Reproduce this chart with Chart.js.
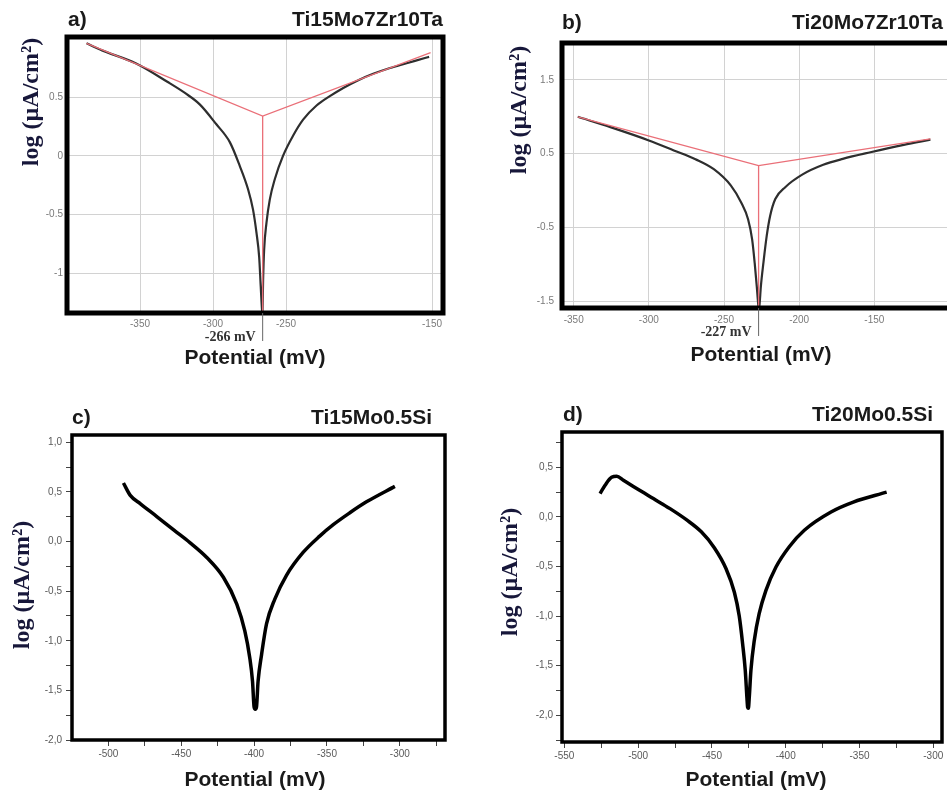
<!DOCTYPE html>
<html>
  <head>
    <title>Potentiodynamic polarization curves</title>
    <script src="https://cdn.jsdelivr.net/npm/chart.js"></script>
    <style>
      body {
        margin: 0;
        background: #fff;
        overflow: hidden;
        width: 947px;
        height: 794px;
        position: relative;
      }

      .panel {
        position: absolute;
      }
    </style>
  </head>
  <body>
    <div class="panel" style="left: 0; top: 0"><canvas id="chartA" width="470" height="375"></canvas></div>
    <div class="panel" style="left: 470px; top: 0"><canvas id="chartB" width="500" height="375"></canvas></div>
    <div class="panel" style="left: 0; top: 380px"><canvas id="chartC" width="470" height="414"></canvas></div>
    <div class="panel" style="left: 470px; top: 380px"><canvas id="chartD" width="477" height="414"></canvas></div>

    <script>
      // sample names
      const alloys = ['Ti15Mo7Zr10Ta', 'Ti20Mo7Zr10Ta', 'Ti15Mo0.5Si', 'Ti20Mo0.5Si'];

      // a) Ti15Mo7Zr10Ta : potential (mV) / log current density
      const potA = [-386.6, -376, -353, -331, -319, -309.1, -297.7, -288.5, -281.7, -276, -272.6, -270.2, -268.4, -267.3, -266.4, -266.2, -266.1, -265.7, -265, -263.4, -261.1, -257.7, -252, -245.1, -238.3, -229.1, -220, -210.8, -201.6, -190.3, -178.8, -167.4, -154.9, -152];
      const logA = [0.96, 0.9, 0.79, 0.63, 0.535, 0.44, 0.27, 0.118, -0.084, -0.284, -0.457, -0.658, -0.86, -1.118, -1.32, -1.34, -1.32, -1.06, -0.8, -0.57, -0.37, -0.198, 0.003, 0.175, 0.31, 0.43, 0.51, 0.58, 0.64, 0.7, 0.75, 0.79, 0.835, 0.845];
      const tafelAx = [-386.6, -266, -151];
      const tafelAy = [0.96, 0.34, 0.88];
      const ecorrA = -266;

      // b) Ti20Mo7Zr10Ta
      const potB = [-347.3, -325.6, -300, -283.4, -269, -256.8, -245.4, -238.6, -234, -231.3, -229.6, -228.2, -227.2, -226.9, -226.4, -225.5, -223.8, -221.6, -219.3, -215.9, -209.1, -197.7, -184, -171, -152.6, -130.4, -112.7];
      const logB = [1.0, 0.86, 0.68, 0.545, 0.425, 0.29, 0.068, -0.16, -0.387, -0.66, -0.98, -1.3, -1.55, -1.59, -1.55, -1.3, -0.98, -0.614, -0.34, -0.114, 0.05, 0.22, 0.35, 0.43, 0.52, 0.62, 0.69];
      const tafelBx = [-347.3, -227, -112.7];
      const tafelBy = [1.0, 0.34, 0.7];
      const ecorrB = -227;

      // c) Ti15Mo0.5Si
      const potC = [-489.7, -485, -478, -466.6, -455, -444.1, -432.5, -421.1, -411.9, -406.4, -403, -401.1, -400, -399.2, -398.4, -397.3, -394.9, -391.5, -385.8, -377.8, -366.4, -355, -345.7, -334.3, -322.9, -303.4];
      const logC = [0.59, 0.465, 0.38, 0.25, 0.115, -0.01, -0.16, -0.36, -0.63, -0.9, -1.17, -1.41, -1.67, -1.69, -1.67, -1.41, -1.14, -0.83, -0.58, -0.34, -0.11, 0.055, 0.17, 0.29, 0.4, 0.556];

      // d) Ti20Mo0.5Si
      const potD = [-525.8, -522.4, -518, -514.5, -510, -501, -489.7, -478.4, -467.1, -457.2, -448.4, -440.5, -434.8, -431.5, -429.2, -427.4, -426.3, -425.8, -425.3, -424.7, -423.6, -421.3, -418, -413.4, -406.6, -397.6, -387.4, -369.3, -354.2, -331.6];
      const logD = [0.236, 0.32, 0.4, 0.41, 0.37, 0.286, 0.185, 0.084, -0.03, -0.15, -0.31, -0.52, -0.76, -1.0, -1.28, -1.55, -1.82, -1.92, -1.93, -1.82, -1.55, -1.245, -0.976, -0.74, -0.505, -0.3, -0.134, 0.05, 0.15, 0.25];

      // tick values
      const xTicksA = [-350, -300, -250, -150];
      const yTicksA = [-1, -0.5, 0, 0.5];
      const xTicksB = [-350, -300, -250, -200, -150];
      const yTicksB = [-1.5, -0.5, 0.5, 1.5];
      const xTicksC = [-500, -475, -450, -425, -400, -375, -350, -325, -300, -275];
      const yTicksC = [-2, -1.75, -1.5, -1.25, -1, -0.75, -0.5, -0.25, 0, 0.25, 0.5, 0.75, 1];
      const xTicksD = [-550, -525, -500, -475, -450, -425, -400, -375, -350, -325, -300];
      const yTicksD = [-2.25, -2, -1.75, -1.5, -1.25, -1, -0.75, -0.5, -0.25, 0, 0.25, 0.5, 0.75];

      const toPoints = (xs, ys) => xs.map((x, i) => ({ x: x, y: ys[i] }));

      // frame + panel texts
      const panelText = {
        id: 'panelText',
        afterDraw(chart, args, o) {
          const ctx = chart.ctx;
          const area = chart.chartArea;
          ctx.save();
          ctx.lineWidth = o.frame;
          ctx.strokeStyle = '#000';
          ctx.strokeRect(area.left, area.top, area.right - area.left, area.bottom - area.top);

          ctx.fillStyle = '#1a1a1a';
          ctx.font = 'bold 21px "Liberation Sans", Arial, sans-serif';
          ctx.textBaseline = 'middle';
          ctx.textAlign = 'left';
          ctx.fillText(o.letter, o.letterPos[0], o.letterPos[1]);
          ctx.textAlign = 'right';
          ctx.fillText(o.name, o.namePos[0], o.namePos[1]);
          ctx.textAlign = 'center';
          ctx.fillText('Potential (mV)', o.xTitlePos[0], o.xTitlePos[1]);

          ctx.save();
          ctx.translate(o.yTitlePos[0], o.yTitlePos[1]);
          ctx.rotate(-Math.PI / 2);
          ctx.font = 'bold 24px "Liberation Serif", "Times New Roman", serif';
          ctx.fillStyle = '#17173a';
          ctx.fillText('log (µA/cm²)', 0, 0);
          ctx.restore();

          if (o.ecorr !== null) {
            const px = chart.scales.x.getPixelForValue(o.ecorr);
            ctx.strokeStyle = '#666';
            ctx.lineWidth = 1;
            ctx.beginPath();
            ctx.moveTo(px, area.bottom);
            ctx.lineTo(px, area.bottom + 28);
            ctx.stroke();
            ctx.font = 'bold 14px "Liberation Serif", "Times New Roman", serif';
            ctx.fillStyle = '#333';
            ctx.textAlign = 'right';
            ctx.fillText(o.ecorr + ' mV', px - 7, area.bottom + 24);
          }
          ctx.restore();
        },
      };

      function makePanel(p) {
        const datasets = [];
        if (p.tafelX) {
          datasets.push({
            data: toPoints(p.tafelX, p.tafelY),
            borderColor: '#ea6f78',
            borderWidth: 1.3,
            pointRadius: 0,
            showLine: true,
          });
          datasets.push({
            data: [{ x: p.ecorr, y: p.tafelY[1] }, { x: p.ecorr, y: p.y[0] }],
            borderColor: '#ea6f78',
            borderWidth: 1.3,
            pointRadius: 0,
            showLine: true,
          });
        }
        datasets.push({
          data: toPoints(p.pot, p.log),
          borderColor: p.grid ? '#2e2e2e' : '#000',
          borderWidth: p.grid ? 2.2 : 3.5,
          pointRadius: 0,
          showLine: true,
          cubicInterpolationMode: 'monotone',
        });

        const tickFont = { family: '"Liberation Sans", Arial, sans-serif', size: 10 };
        const gridOpts = p.grid
          ? { color: '#d2d2d2', lineWidth: 1, drawTicks: false }
          : { drawOnChartArea: false, drawTicks: true, tickLength: 6, color: '#444' };

        new Chart(document.getElementById(p.id), {
          type: 'scatter',
          data: { datasets: datasets },
          plugins: [panelText],
          options: {
            responsive: false,
            animation: false,
            layout: { autoPadding: false, padding: { top: p.padTop, right: p.padRight, left: 0, bottom: 0 } },
            plugins: {
              legend: { display: false },
              tooltip: { enabled: false },
              panelText: {
                frame: p.grid ? 5 : 3.5,
                letter: p.letter,
                name: p.name,
                letterPos: p.letterPos,
                namePos: p.namePos,
                xTitlePos: p.xTitlePos,
                yTitlePos: p.yTitlePos,
                ecorr: p.tafelX ? p.ecorr : null,
              },
            },
            scales: {
              x: {
                type: 'linear',
                position: 'bottom',
                min: p.x[0],
                max: p.x[1],
                afterBuildTicks: (s) => {
                  s.ticks = p.xTicks.map((v) => ({ value: v }));
                },
                afterFit: (s) => {
                  s.height = p.xh;
                },
                grid: gridOpts,
                border: { display: false },
                ticks: {
                  font: tickFont,
                  color: p.grid ? '#7a7a7a' : '#5a5a5a',
                  padding: p.xPad,
                  maxRotation: 0,
                  autoSkip: false,
                  callback: (v) => (p.grid || v % 50 === 0 ? String(v) : ''),
                },
              },
              y: {
                type: 'linear',
                position: 'left',
                min: p.y[0],
                max: p.y[1],
                afterBuildTicks: (s) => {
                  s.ticks = p.yTicks.map((v) => ({ value: v }));
                },
                afterFit: (s) => {
                  s.width = p.yw;
                },
                grid: gridOpts,
                border: { display: false },
                ticks: {
                  font: tickFont,
                  color: p.grid ? '#7a7a7a' : '#5a5a5a',
                  padding: p.yPad,
                  autoSkip: false,
                  callback: (v) => {
                    if (p.grid) return String(v);
                    return Math.round(v * 4) % 2 === 0 ? v.toFixed(1).replace('.', ',') : '';
                  },
                },
              },
            },
          },
        });
      }

      makePanel({
        id: 'chartA', letter: 'a)', name: alloys[0], grid: true,
        pot: potA, log: logA, tafelX: tafelAx, tafelY: tafelAy, ecorr: ecorrA,
        x: [-400, -142.5], y: [-1.338, 1.014], xTicks: xTicksA, yTicks: yTicksA,
        padTop: 37, padRight: 27, yw: 67, xh: 62, xPad: 5, yPad: 4,
        letterPos: [68, 20], namePos: [443, 20], xTitlePos: [255, 358], yTitlePos: [32, 102],
      });

      makePanel({
        id: 'chartB', letter: 'b)', name: alloys[1], grid: true,
        pot: potB, log: logB, tafelX: tafelBx, tafelY: tafelBy, ecorr: ecorrB,
        x: [-357.8, -93], y: [-1.59, 2.0], xTicks: xTicksB, yTicks: yTicksB,
        padTop: 43, padRight: 10, yw: 92, xh: 67, xPad: 6, yPad: 8,
        letterPos: [92, 23], namePos: [473, 23], xTitlePos: [291, 355], yTitlePos: [50, 110],
      });

      makePanel({
        id: 'chartC', letter: 'c)', name: alloys[2], grid: false,
        pot: potC, log: logC,
        x: [-525, -269], y: [-2.0, 1.074], xTicks: xTicksC, yTicks: yTicksC,
        padTop: 55, padRight: 25, yw: 72, xh: 54, xPad: 2, yPad: 4,
        letterPos: [72, 38], namePos: [432, 38], xTitlePos: [255, 400], yTitlePos: [23, 205],
      });

      makePanel({
        id: 'chartD', letter: 'd)', name: alloys[3], grid: false,
        pot: potD, log: logD,
        x: [-551.6, -294.1], y: [-2.27, 0.857], xTicks: xTicksD, yTicks: yTicksD,
        padTop: 52, padRight: 5, yw: 92, xh: 52, xPad: 2, yPad: 3,
        letterPos: [93, 35], namePos: [463, 35], xTitlePos: [286, 400], yTitlePos: [41, 192],
      });
    </script>
  </body>
</html>
